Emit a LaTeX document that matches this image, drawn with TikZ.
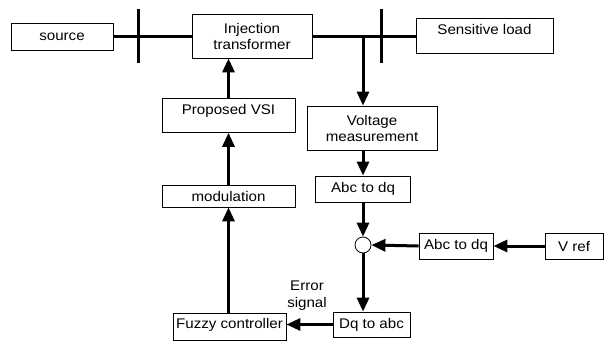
\documentclass[tikz,border=0pt]{standalone}
\usepackage{fontspec}
\setmainfont{Liberation Sans}[FakeStretch=1.08]
\usetikzlibrary{arrows.meta,calc}
\tikzset{
  bus/.style={black,line width=3pt},
  flow/.style={-{Triangle[length=14pt,width=12pt]},line width=3pt},
  block/.style={draw=black,line width=0.8pt,fill=white,inner sep=0pt,align=center,
               font=\fontsize{14}{16}\selectfont},
  sumnode/.style={circle,draw=black,line width=0.8pt,fill=white,minimum size=16pt,inner sep=0pt},
  lab/.style={font=\fontsize{14}{17}\selectfont,align=center},
}
\begin{document}
\begin{tikzpicture}[x=1pt,y=-1pt]
  \path[use as bounding box] (0,0) rectangle (604,340);

  \node[block,minimum width=102pt,minimum height=27pt] (source) at (62,36.5) {source};
  \node[block,minimum width=120pt,minimum height=44pt] (inj) at (252,36) {Injection\\transformer};
  \node[block,anchor=north,minimum width=137pt,text height=16pt,text depth=19pt] (load) at (484.5,18)
    {Sensitive load};
  \node[block,anchor=north,minimum width=133pt,text height=16pt,text depth=18pt] (vsi) at (228.5,98)
    {Proposed VSI};
  \node[block,minimum width=133pt,minimum height=22pt] (mod) at (228.5,196) {modulation};
  \node[block,anchor=north,minimum width=113pt,text height=15pt,text depth=11.5pt] (fuzzy) at (229.5,313)
    {Fuzzy controller};

  \node[block,minimum width=130pt,minimum height=44pt] (meas) at (372,128) {Voltage\\measurement};
  \node[block,minimum width=95pt,minimum height=26pt] (abcdq) at (363,189) {Abc to dq};
  \node[sumnode] (sum) at (363,245) {};
  \node[block,minimum width=74pt,minimum height=26pt] (refdq) at (456,246) {Abc to dq};
  \node[block,minimum width=58pt,minimum height=26pt] (vref) at (574,246) {V ref};
  \node[block,minimum width=77pt,minimum height=25pt] (dqabc) at (371.5,324.5) {Dq to abc};
  \node[lab] (err) at (307,296) {Error\\signal};

  \coordinate (bar1) at (138,36);
  \coordinate (bar2) at (381,36);
  \coordinate (tap) at (363,36);
  \draw[bus] (source.east) -- (source.east -| inj.west);
  \draw[bus] (inj.east) -- (inj.east -| load.west);
  \draw[bus] ($(bar1)+(0,-27)$) -- ($(bar1)+(0,27)$);
  \draw[bus] ($(bar2)+(0,-27)$) -- ($(bar2)+(0,27)$);

  \draw[flow] (tap) -- (tap |- meas.north);
  \draw[flow] (abcdq.north |- meas.south) -- (abcdq.north);
  \draw[flow] (abcdq.south) -- (sum.north);
  \draw[flow] (vref.west) -- (refdq.east);
  \draw[flow] (refdq.west) -- (sum.east);
  \draw[flow] (sum.south) -- (sum.south |- dqabc.north);
  \draw[flow] (dqabc.west) -- (dqabc.west -| fuzzy.east);
  \draw[flow] (mod.south |- fuzzy.north) -- (mod.south);
  \draw[flow] (mod.north) -- (vsi.south);
  \draw[flow] (vsi.north) -- (vsi.north |- inj.south);
\end{tikzpicture}
\end{document}
